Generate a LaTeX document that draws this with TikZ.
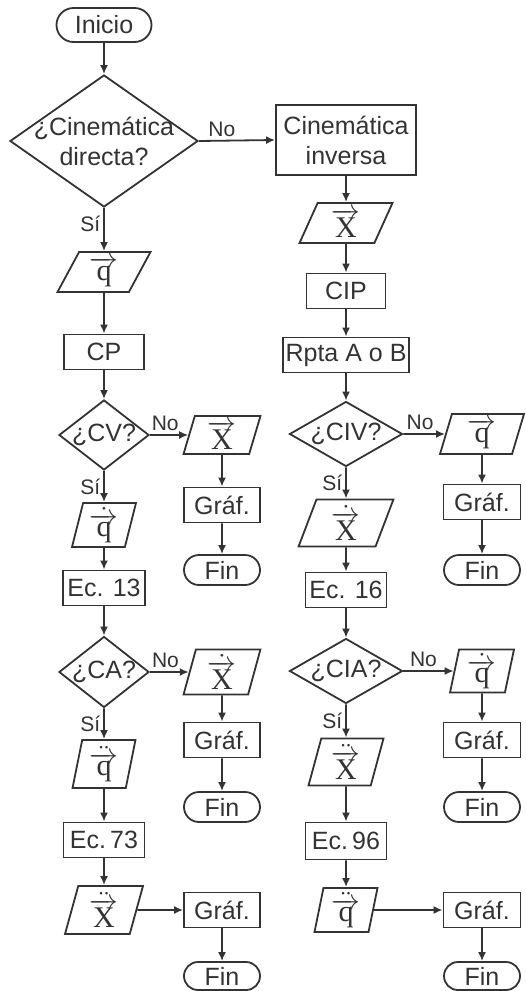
\documentclass[tikz,border=0pt]{standalone}
\usepackage{fontspec}
\setmainfont{Liberation Sans}
\newfontfamily\vecfont{Liberation Serif}
\usetikzlibrary{shapes.geometric,shapes.misc,arrows.meta}
\definecolor{ink}{gray}{0.2}
\newcommand\vx{\hbox{\vecfont X}}
\newcommand\vq{\hbox{\vecfont q}}
\tikzset{
  base/.style={draw=ink, line width=0.9pt, text=ink, inner sep=0pt,
    font=\fontsize{12.5}{15}\selectfont},
  box/.style={base, rectangle, minimum height=17.5pt},
  term/.style={base, rounded rectangle, minimum height=15pt, minimum width=38pt},
  dec/.style={base, diamond},
  para/.style 2 args={base, trapezium, trapezium left angle=#1,
    trapezium right angle=#2, trapezium stretches=true,
    font=\fontsize{15}{18}\selectfont},
  line/.style={draw=ink, line width=0.9pt, -{Latex[length=4.5pt,width=4pt]}},
  lab/.style={text=ink, font=\fontsize{10.5}{12}\selectfont, inner sep=1.5pt}
}
\begin{document}
\begin{tikzpicture}[x=0.5pt,y=-0.5pt]
\useasboundingbox (0,0) rectangle (525,991);
% ---------- left column ----------
\node[term, minimum width=47.5pt, minimum height=17pt] (inicio) at (104,25) {Inicio};
\node[dec, align=center, aspect=1.42, inner xsep=-6pt, inner ysep=-4pt, minimum width=94pt, minimum height=66pt] (d1) at (104,141) {¿Cinemática\\directa?};
\node[base, align=center, inner sep=0pt, minimum width=70pt, minimum height=35pt] (inv) at (346,140) {Cinemática\\inversa};
\node[para={67}{113}, minimum width=46.5pt, minimum height=20pt] (pq) at (104,272) {$\overrightarrow{\vq}$};
\node[box, minimum width=40pt] (cp) at (104,352) {CP};
\node[dec, aspect=1.29, inner xsep=-2pt, minimum width=45pt, minimum height=35pt] (dcv) at (104,435) {¿CV?};
\node[para={78}{102}, minimum width=38.5pt, minimum height=19pt] (px1) at (222,435) {$\overrightarrow{\vx}$};
\node[box, minimum width=38pt] (g1) at (222,505) {Gráf.};
\node[term] (f1) at (222,570) {Fin};
\node[para={78}{102}, minimum width=32pt, minimum height=22pt] (pqd) at (104,525) {$\dot{\overrightarrow{\vq}}$};
\node[box, minimum width=41pt] (ec13) at (104,588) {Ec. 13};
\node[dec, aspect=1.29, inner xsep=-2pt, minimum width=45pt, minimum height=35.5pt] (dca) at (104,672) {¿CA?};
\node[para={79}{101}, minimum width=38.5pt, minimum height=22.5pt] (pxd1) at (222,672) {$\dot{\overrightarrow{\vx}}$};
\node[box, minimum width=38pt] (g2) at (222,740) {Gráf.};
\node[term] (f2) at (222,807) {Fin};
\node[para={80}{100}, minimum width=31.5pt, minimum height=24pt] (pqdd) at (104,764) {$\ddot{\overrightarrow{\vq}}$};
\node[box, minimum width=40.5pt] (ec73) at (104,840) {Ec.\,73};
\node[para={78}{102}, minimum width=39pt, minimum height=24pt] (pxdd) at (104,910) {$\ddot{\overrightarrow{\vx}}$};
\node[box, minimum width=38pt] (g3) at (222,910) {Gráf.};
\node[term, minimum height=14pt] (f3) at (222,976) {Fin};
% ---------- right column ----------
\node[para={72}{108}, minimum width=46.5pt, minimum height=20pt] (pX) at (346,223) {$\overrightarrow{\vx}$};
\node[box, minimum width=39.5pt] (cip) at (346,291) {CIP};
\node[box, minimum width=63pt] (rpta) at (346,355) {Rpta A o B};
\node[dec, aspect=1.74, minimum width=56.5pt, minimum height=32.5pt] (dciv) at (346,434) {¿CIV?};
\node[para={79}{101}, minimum width=42pt, minimum height=20pt] (pq2) at (482,434) {$\overrightarrow{\vq}$};
\node[box, minimum width=38.5pt] (g4) at (482,502) {Gráf.};
\node[term] (f4) at (482,570) {Fin};
\node[para={76}{104}, minimum width=47.5pt, minimum height=23.5pt] (pXd) at (346,523) {$\dot{\overrightarrow{\vx}}$};
\node[box, minimum width=40.5pt] (ec16) at (346,590) {Ec. 16};
\node[dec, aspect=1.74, minimum width=56.5pt, minimum height=32.5pt] (dcia) at (346,671) {¿CIA?};
\node[para={81}{99}, minimum width=32pt, minimum height=21.5pt] (pqd2) at (482,671) {$\dot{\overrightarrow{\vq}}$};
\node[box, minimum width=38.5pt] (g5) at (482,740) {Gráf.};
\node[term] (f5) at (482,807) {Fin};
\node[para={78}{102}, minimum width=37.5pt, minimum height=23.5pt] (pXdd) at (346,762) {$\ddot{\overrightarrow{\vx}}$};
\node[box, minimum width=40.5pt, minimum height=18.5pt] (ec96) at (346,841) {Ec.\,96};
\node[para={81}{99}, minimum width=31.5pt, minimum height=22pt] (pqdd2) at (346,910) {$\ddot{\overrightarrow{\vq}}$};
\node[box, minimum width=38.5pt] (g6) at (482,910) {Gráf.};
\node[term, minimum height=14pt] (f6) at (482,976) {Fin};
% ---------- connectors ----------
\draw[line] (inicio) -- (d1);
\draw[line] (d1.east) -- node[lab, above, pos=0.3] {No} (inv.west);
\draw[line] (d1.south) -- node[lab, left, pos=0.38] {Sí} (pq);
\draw[line] (pq) -- (cp);
\draw[line] (cp) -- (dcv);
\draw[line] (dcv.east) -- node[lab, above, pos=0.4] {No} (px1.west);
\draw[line] (px1) -- (g1);
\draw[line] (g1) -- (f1);
\draw[line] (dcv.south) -- node[lab, left, pos=0.5] {Sí} (pqd);
\draw[line] (pqd) -- (ec13);
\draw[line] (ec13) -- (dca);
\draw[line] (dca.east) -- node[lab, above, pos=0.4] {No} (pxd1.west);
\draw[line] (pxd1) -- (g2);
\draw[line] (g2) -- (f2);
\draw[line] (dca.south) -- node[lab, left, pos=0.5] {Sí} (pqdd);
\draw[line] (pqdd) -- (ec73);
\draw[line] (ec73) -- (pxdd);
\draw[line] (pxdd.east) -- (g3.west);
\draw[line] (g3) -- (f3);
\draw[line] (inv) -- (pX);
\draw[line] (pX) -- (cip);
\draw[line] (cip) -- (rpta);
\draw[line] (rpta) -- (dciv);
\draw[line] (dciv.east) -- node[lab, above, pos=0.4] {No} (pq2.west);
\draw[line] (pq2) -- (g4);
\draw[line] (g4) -- (f4);
\draw[line] (dciv.south) -- node[lab, left, pos=0.5] {Sí} (pXd);
\draw[line] (pXd) -- (ec16);
\draw[line] (ec16) -- (dcia);
\draw[line] (dcia.east) -- node[lab, above, pos=0.4] {No} (pqd2.west);
\draw[line] (pqd2) -- (g5);
\draw[line] (g5) -- (f5);
\draw[line] (dcia.south) -- node[lab, left, pos=0.5] {Sí} (pXdd);
\draw[line] (pXdd) -- (ec96);
\draw[line] (ec96) -- (pqdd2);
\draw[line] (pqdd2.east) -- (g6.west);
\draw[line] (g6) -- (f6);
\end{tikzpicture}
\end{document}
